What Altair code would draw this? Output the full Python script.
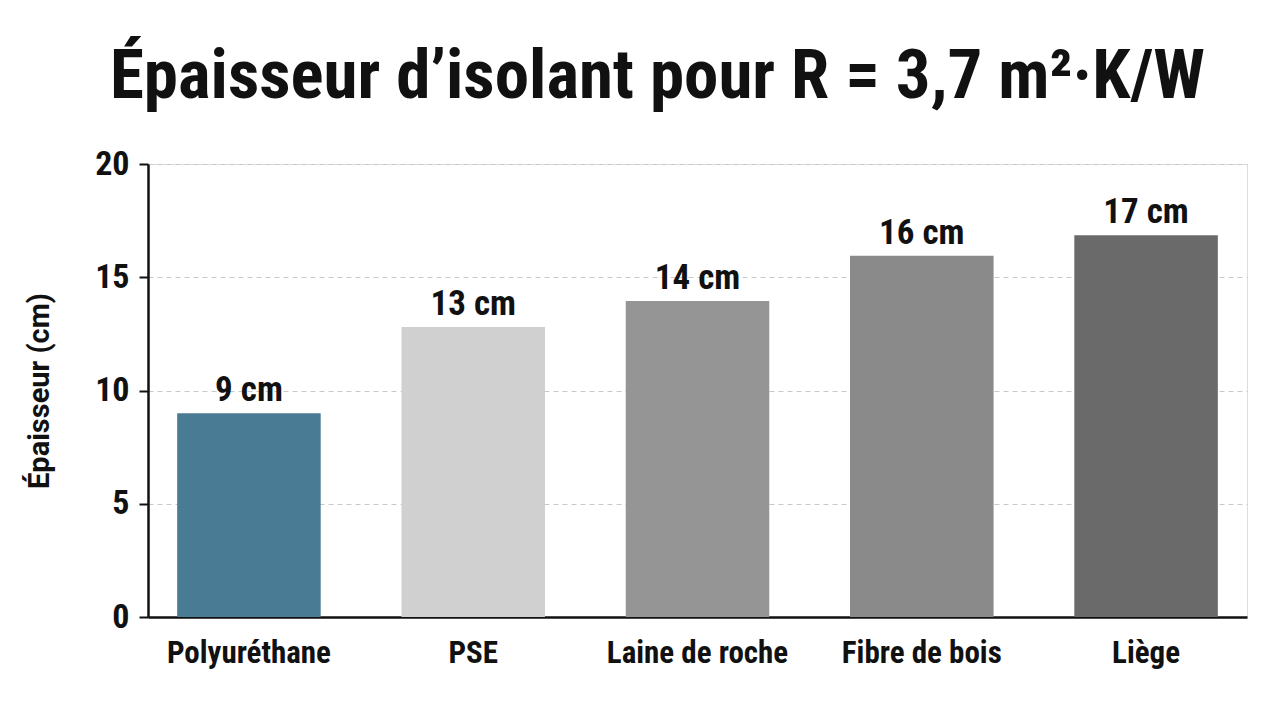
import altair as alt
import pandas as pd

categories = ["Polyuréthane", "PSE", "Laine de roche", "Fibre de bois", "Liège"]
values = [9.0, 12.8, 13.95, 15.95, 16.85]
labels = ["9 cm", "13 cm", "14 cm", "16 cm", "17 cm"]
colors = ["#4a7b94", "#d0d0d0", "#959595", "#8a8a8a", "#6a6a6a"]

df = pd.DataFrame({"cat": categories, "val": values, "lab": labels})

FONT = "Roboto Condensed, Liberation Sans Narrow, DejaVu Sans Condensed, sans-serif"
FONT2 = "Roboto, Liberation Sans, DejaVu Sans, sans-serif"

x = alt.X("cat:N", sort=categories, title=None,
          scale=alt.Scale(paddingInner=0.36, paddingOuter=0.13),
          axis=alt.Axis(labelAngle=0, labelFont=FONT, labelFontSize=31, labelFontWeight="bold",
                        labelColor="#111111", labelPadding=21, labelLimit=0, ticks=False,
                        domainColor="#111111", domainWidth=2.5, grid=False))

bars = alt.Chart(df).mark_bar().encode(
    x=x,
    y=alt.Y("val:Q", title="Épaisseur (cm)",
            scale=alt.Scale(domain=[0, 20], nice=False),
            axis=alt.Axis(values=[0, 5, 10, 15, 20], labelFont=FONT, labelFontSize=34,
                          labelFontWeight="bold", labelColor="#111111", labelPadding=10,
                          tickColor="#111111", tickWidth=2, tickSize=9,
                          domainColor="#111111", domainWidth=2.5,
                          grid=True, gridColor="#c8c8c8", gridDash=[5, 4], gridWidth=1,
                          titleFont=FONT2, titleFontSize=29, titleFontWeight="bold",
                          titleColor="#111111", titlePadding=40)),
    color=alt.Color("cat:N", scale=alt.Scale(domain=categories, range=colors), legend=None),
)

text = alt.Chart(df).mark_text(baseline="alphabetic", dy=-12, font=FONT, fontSize=35,
                               fontWeight="bold", color="#111111").encode(
    x=alt.X("cat:N", sort=categories),
    y=alt.Y("val:Q"),
    text="lab:N",
)

chart = (bars + text).properties(
    width=1099, height=453,
    padding={"left": 148, "top": 164, "right": 33, "bottom": 85},
    autosize=alt.AutoSizeParams(type="none"),
    title=alt.TitleParams("Épaisseur d’isolant pour R = 3,7 m²·K/W", font=FONT, fontSize=69,
                          fontWeight="bold", color="#111111", anchor="middle", dx=-40,
                          offset=35),
).configure_view(stroke=None).configure(background="white")

chart.save("out.html", embed_options={"renderer": "svg", "actions": False})
